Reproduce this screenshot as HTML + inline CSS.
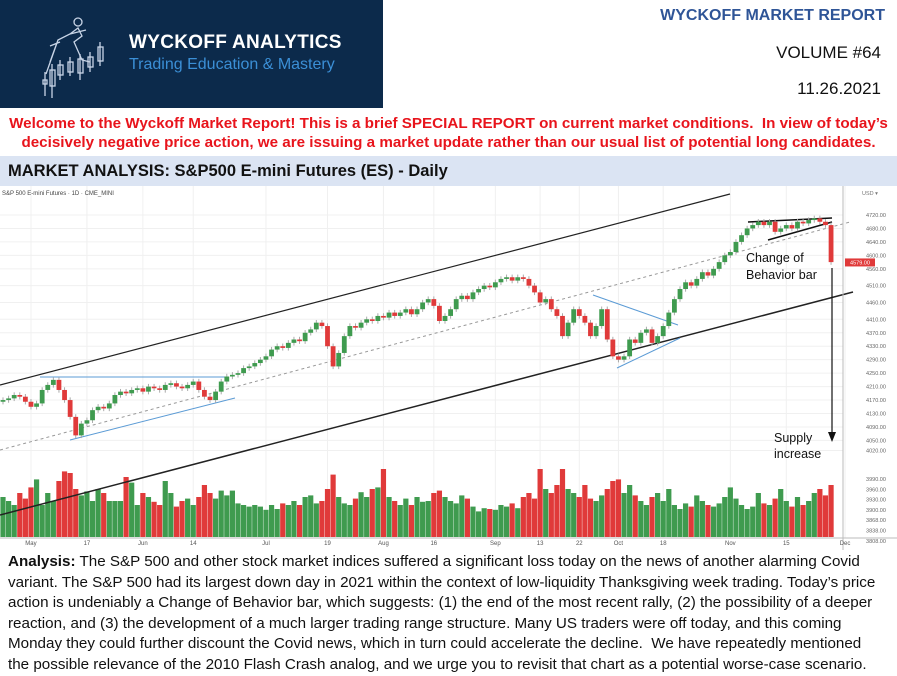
<!DOCTYPE html>
<html><head><meta charset="utf-8">
<style>
body{margin:0;width:897px;height:673px;overflow:hidden;background:#fff;font-family:"Liberation Sans",sans-serif;position:relative}
.abs{position:absolute}
</style></head><body>
<div class="abs" style="left:0;top:0;width:383px;height:108px;background:#0c2a4b"></div>
<svg class="abs" style="left:30px;top:12px" width="80" height="90" viewBox="0 0 80 90">
<g stroke="#c8d4e6" fill="none" stroke-width="1.3">
<path d="M20 50 L28 28 L40 22 L48 16 L52 24 L44 30 L52 48 L60 50 M30 30 L20 34 M40 22 L56 18 M28 28 L16 62"/>
<circle cx="48" cy="10" r="4"/>
<rect x="13" y="68" width="4" height="4"/><line x1="15" y1="60" x2="15" y2="84"/>
<rect x="20" y="58" width="5" height="16"/><line x1="22" y1="52" x2="22" y2="86"/>
<rect x="28" y="53" width="5" height="10"/><line x1="30" y1="48" x2="30" y2="68"/>
<rect x="38" y="50" width="5" height="10"/><line x1="40" y1="45" x2="40" y2="64"/>
<rect x="48" y="47" width="5" height="14"/><line x1="50" y1="42" x2="50" y2="68"/>
<rect x="58" y="45" width="5" height="10"/><line x1="60" y1="40" x2="60" y2="60"/>
<rect x="68" y="35" width="5" height="14"/><line x1="70" y1="30" x2="70" y2="54"/>
</g></svg>
<div class="abs" style="left:129px;top:32px;color:#fff;font-size:19px;font-weight:bold;letter-spacing:0.3px">WYCKOFF ANALYTICS</div>
<div class="abs" style="left:129px;top:56px;color:#3b8fd6;font-size:16px">Trading Education &amp; Mastery</div>
<div class="abs" style="right:12px;top:7px;color:#2f5597;font-size:16px;font-weight:bold">WYCKOFF MARKET REPORT</div>
<div class="abs" style="right:16px;top:43px;color:#111;font-size:17px">VOLUME #64</div>
<div class="abs" style="right:16px;top:79px;color:#111;font-size:17px">11.26.2021</div>
<div class="abs" style="left:0;top:114px;width:897px;text-align:center;color:#e8141c;font-size:15.2px;font-weight:bold;line-height:19px">Welcome to the Wyckoff Market Report! This is a brief SPECIAL REPORT on current market conditions.&nbsp; In view of today’s<br>decisively negative price action, we are issuing a market update rather than our usual list of potential long candidates.</div>
<div class="abs" style="left:0;top:156px;width:897px;height:30px;background:#dbe4f3"></div>
<div class="abs" style="left:8px;top:162px;font-size:16.5px;font-weight:bold;color:#111">MARKET ANALYSIS: S&amp;P500 E-mini Futures (ES) - Daily</div>
<svg class="abs" id="chart" style="left:0;top:186px" width="897" height="364"></svg>
<div class="abs" style="left:8px;top:552px;width:889px;white-space:nowrap;font-size:15.2px;line-height:20.6px;color:#111"><b>Analysis:</b> The S&amp;P 500 and other stock market indices suffered a significant loss today on the news of another alarming Covid<br>variant. The S&amp;P 500 had its largest down day in 2021 within the context of low-liquidity Thanksgiving week trading. Today’s price<br>action is undeniably a Change of Behavior bar, which suggests: (1) the end of the most recent rally, (2) the possibility of a deeper<br>reaction, and (3) the development of a much larger trading range structure. Many US traders were off today, and this coming<br>Monday they could further discount the Covid news, which in turn could accelerate the decline.&nbsp; We have repeatedly mentioned<br>the possible relevance of the 2010 Flash Crash analog, and we urge you to revisit that chart as a potential worse-case scenario.</div>
<script>
const closes=[4170,4175,4185,4180,4165,4150,4160,4200,4215,4230,
4200,4170,4120,4065,4100,4110,4140,4150,4145,4160,
4185,4195,4190,4200,4205,4195,4210,4205,4200,4215,
4220,4210,4205,4215,4225,4200,4180,4170,4195,4225,
4240,4245,4250,4265,4270,4280,4290,4300,4320,4330,
4325,4340,4350,4345,4370,4380,4400,4390,4330,4270,
4310,4360,4390,4385,4400,4410,4405,4420,4415,4430,
4420,4430,4440,4425,4440,4460,4470,4450,4405,4420,
4440,4470,4480,4470,4490,4500,4510,4505,4520,4530,
4535,4525,4535,4530,4510,4490,4460,4470,4440,4420,
4360,4400,4440,4420,4400,4360,4390,4440,4350,4300,
4290,4300,4350,4340,4370,4380,4340,4360,4390,4430,
4470,4500,4520,4510,4530,4550,4540,4560,4580,4600,
4610,4640,4660,4680,4690,4700,4690,4700,4670,4680,
4690,4680,4700,4695,4705,4710,4700,4690,4580];
const volumes=[50,45,40,55,48,62,72,40,55,45,
70,82,80,60,52,57,45,60,55,45,
45,45,75,68,40,55,50,44,40,70,
55,38,45,48,40,50,65,55,48,58,
52,58,42,40,38,40,38,34,40,35,
42,40,45,40,50,52,42,45,60,78,
50,42,40,48,56,50,60,62,85,50,
45,40,48,40,50,44,45,55,58,50,
45,42,52,48,38,32,36,35,34,40,
38,42,36,50,55,48,85,60,55,65,
85,60,55,50,65,48,45,52,60,70,
72,55,65,52,45,40,50,55,45,60,
40,35,42,38,52,45,40,38,42,50,
62,48,40,35,38,55,42,40,48,60,
45,38,50,40,45,55,60,52,65];
const priceTicks=["4720.00","4680.00","4640.00","4600.00","4560.00","4510.00","4460.00","4410.00","4370.00","4330.00","4290.00","4250.00","4210.00","4170.00","4130.00","4090.00","4050.00","4020.00"];
const tickValues=[4720,4680,4640,4600,4560,4510,4460,4410,4370,4330,4290,4250,4210,4170,4130,4090,4050,4020];
const lowerLabels=["3990.00","3960.00","3930.00","3900.00","3868.00","3838.00","3808.00"];
const dateLabels=["May","17","Jun","14","Jul","19","Aug","16","Sep","13","22","Oct","18","Nov","15","Dec"];
const dateIdx=[5,15,25,34,47,58,68,77,88,96,103,110,118,130,140,150.5];

const svg=document.getElementById('chart');const NS='http://www.w3.org/2000/svg';
function mk(t,a,p){const e=document.createElementNS(NS,t);for(const k in a)e.setAttribute(k,a[k]);(p||svg).appendChild(e);return e;}
function y(p){return 215-186+(4720-p)/2.972;}
function x(i){return 3+i*5.595;}
function vy(v){return 351-v*0.8;}
for(let k=0;k<tickValues.length;k++){const g=mk('line',{x1:0,x2:843,y1:y(tickValues[k]),y2:y(tickValues[k]),stroke:'#f0f0f0'});}
for(let k=0;k<dateIdx.length;k++){const g=mk('line',{x1:x(dateIdx[k]),x2:x(dateIdx[k]),y1:0,y2:352,stroke:'#f0f0f0'});}
for(let i=0;i<volumes.length;i++){const up=i===0?true:closes[i]>=closes[i-1];const r=mk('rect',{x:x(i)-2.6,y:vy(volumes[i]),width:5.2,height:351-vy(volumes[i]),fill:up?'#3f9b4f':'#e03a3a'});}
const L=[[0,199,730,8,'#222','none',1.2],[0,329,853,106,'#222','none',1.5],[0,264,850,36,'#999','3,3',1],[40,191,225,191,'#5b9bd5','none',1],[70,254,235,212,'#5b9bd5','none',1],[593,109,678,139,'#5b9bd5','none',1],[617,182,680,152,'#5b9bd5','none',1],[748,36,832,32,'#111','none',1.5],[768,54,832,36,'#111','none',1.5]];
L.forEach(l=>{const e=mk('line',{x1:l[0],y1:l[1],x2:l[2],y2:l[3],stroke:l[4],'stroke-dasharray':l[5],'stroke-width':l[6]});});
for(let i=0;i<closes.length;i++){const o=i===0?closes[0]-5:closes[i-1];const c=closes[i];const up=c>=o;const col=up?'#3f9b4f':'#e03a3a';
const hi=Math.max(o,c)+8,lo=Math.min(o,c)-8;
const w=mk('line',{x1:x(i),x2:x(i),y1:y(hi),y2:y(lo),stroke:'#aaa','stroke-width':1});
const b=mk('rect',{x:x(i)-2.4,y:y(Math.max(o,c)),width:4.8,height:Math.max(1,Math.abs(y(o)-y(c))),fill:col});}
const ar=mk('line',{x1:832,y1:82,x2:832,y2:248,stroke:'#111','stroke-width':1.2});
const ah=mk('polygon',{points:'828,246 836,246 832,256',fill:'#111'});
const ax=mk('line',{x1:843,x2:843,y1:0,y2:364,stroke:'#bbb'});
const bx=mk('line',{x1:0,x2:897,y1:352,y2:352,stroke:'#bbb'});
for(let k=0;k<priceTicks.length;k++){const t=mk('text',{x:876,y:y(tickValues[k])+2,'font-size':5.5,fill:'#666','text-anchor':'middle'});t.textContent=priceTicks[k];}
for(let k=0;k<lowerLabels.length;k++){const t=mk('text',{x:876,y:295+k*10.3,'font-size':5.5,fill:'#666','text-anchor':'middle'});t.textContent=lowerLabels[k];}
for(let k=0;k<dateLabels.length;k++){const t=mk('text',{x:x(dateIdx[k]),y:359,'font-size':6,fill:'#555','text-anchor':'middle'});t.textContent=dateLabels[k];}
const pl=mk('rect',{x:845,y:y(4579)-4,width:30,height:8,fill:'#e03a3a'});
const plt=mk('text',{x:860,y:y(4579)+2,'font-size':5.5,fill:'#fff','text-anchor':'middle'});plt.textContent='4579.00';
const ttl=mk('text',{x:2,y:9,'font-size':6,fill:'#444'});ttl.textContent='S&P 500 E-mini Futures · 1D · CME_MINI';
const usd=mk('text',{x:870,y:9,'font-size':5.5,fill:'#777','text-anchor':'middle'});usd.textContent='USD ▾';
[['Change of',746,76],['Behavior bar',746,93],['Supply',774,256],['increase',774,272]].forEach(a=>{const t=mk('text',{x:a[1],y:a[2],'font-size':12.5,fill:'#111'});t.textContent=a[0];});
</script>
</body></html>
